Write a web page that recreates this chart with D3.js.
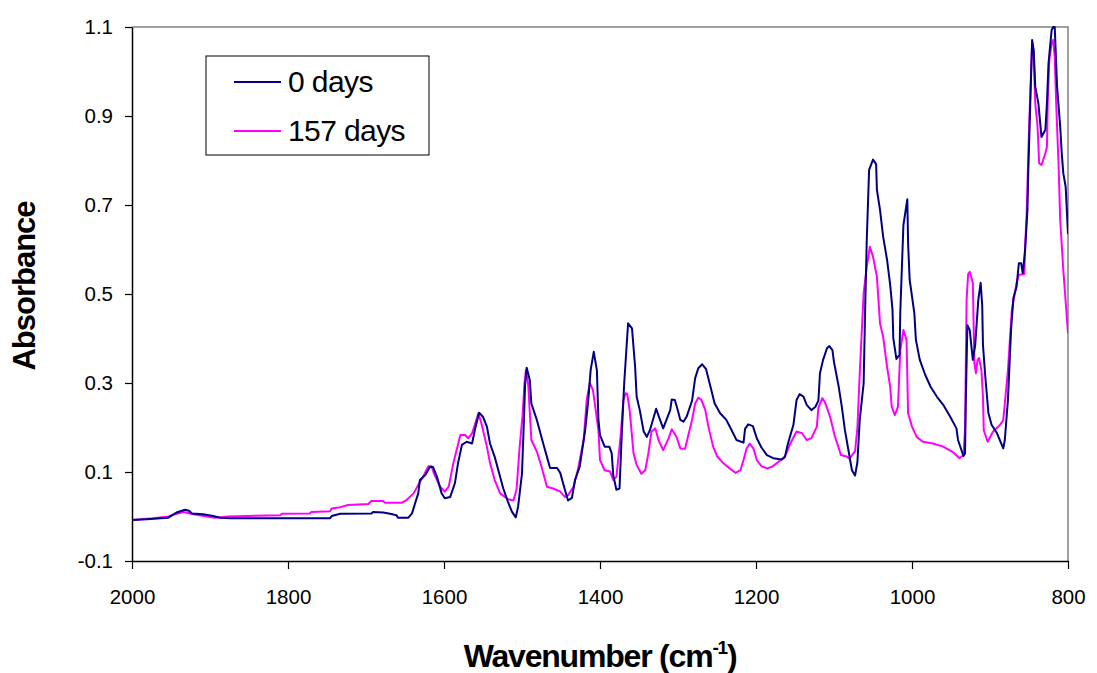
<!DOCTYPE html>
<html>
<head>
<meta charset="utf-8">
<script src="https://cdn.jsdelivr.net/npm/d3@7"></script>
<style>
  html, body { margin: 0; padding: 0; background: #fff; }
  svg { display: block; font-family: "Liberation Sans", Arial, sans-serif; }
</style>
</head>
<body>
<svg id="chart" width="1097" height="673"></svg>
<script>
// FTIR spectra: absorbance versus wavenumber, fresh sample and after 157 days
const seriesNames = ["0 days", "157 days"];
const seriesColors = ["#000080", "#ff00ff"];

const waveDay0 = [2000,1981,1954,1943,1932,1927,1923,1909,1896,1887,1874,1746,1744,1733,1693,1691,1678,1669,1661,1659,
  1646,1641,1637,1633,1631,1624,1618,1614,1609,1603,1599,1592,1586,1582,1577,1571,1564,1560,1555,1550,
  1545,1541,1535,1528,1524,1518,1513,1508,1505,1500,1498,1496,1494,1490,1488,1481,1473,1468,1464,1455,
  1451,1445,1441,1436,1432,1426,1419,1415,1412,1408,1404,1402,1400,1394,1388,1385,1383,1379,1375,1372,
  1369,1364,1359,1355,1353,1349,1344,1340,1336,1328,1323,1319,1310,1308,1304,1300,1297,1293,1289,1282,
  1278,1274,1269,1264,1259,1253,1246,1238,1233,1225,1216,1214,1210,1204,1199,1193,1186,1178,1167,1163,
  1159,1152,1148,1144,1139,1135,1129,1124,1120,1118,1114,1109,1106,1102,1100,1094,1090,1086,1082,1077,
  1073,1070,1067,1062,1060,1058,1055,1050,1046,1045,1041,1037,1032,1028,1025,1024,1020,1016,1015,1011,
  1006,1005,1003,997,995,990,983,976,968,960,951,943,941,936,934,932,931,929,926,922,
  919,915,912,910,909,906,902,898,891,883,881,877,873,870,866,863,860,858,855,852,
  851,849,846,844,842,838,834,829,827,825,821,819,817,814,810,808,806,803,800];
const absDay0 = [-0.008,-0.006,-0.003,0.009,0.015,0.013,0.007,0.005,0.001,-0.003,-0.004,-0.004,0.001,0.006,0.007,0.010,0.009,0.006,0.003,-0.003,
  -0.003,0.007,0.030,0.052,0.082,0.093,0.111,0.111,0.089,0.052,0.041,0.044,0.075,0.120,0.161,0.168,0.164,0.198,0.233,0.224,
  0.202,0.164,0.134,0.089,0.063,0.033,0.011,-0.002,0.022,0.097,0.194,0.296,0.334,0.307,0.254,0.217,0.165,0.134,0.109,0.109,
  0.098,0.060,0.036,0.042,0.082,0.112,0.194,0.262,0.329,0.370,0.329,0.217,0.183,0.157,0.157,0.142,0.093,0.060,0.063,0.187,
  0.299,0.434,0.423,0.337,0.269,0.239,0.191,0.179,0.194,0.242,0.217,0.198,0.239,0.263,0.262,0.237,0.217,0.213,0.224,0.260,
  0.311,0.333,0.342,0.331,0.296,0.254,0.232,0.217,0.200,0.172,0.166,0.197,0.207,0.203,0.176,0.155,0.138,0.131,0.128,0.134,
  0.164,0.206,0.262,0.275,0.269,0.251,0.239,0.246,0.260,0.322,0.352,0.378,0.383,0.374,0.347,0.292,0.247,0.194,0.154,0.104,
  0.092,0.122,0.217,0.299,0.471,0.621,0.779,0.802,0.792,0.734,0.689,0.629,0.577,0.521,0.465,0.401,0.354,0.363,0.460,0.655,
  0.713,0.614,0.532,0.457,0.397,0.352,0.318,0.291,0.269,0.251,0.224,0.198,0.172,0.146,0.136,0.142,0.262,0.430,0.419,0.352,
  0.385,0.487,0.525,0.475,0.385,0.314,0.232,0.206,0.187,0.153,0.172,0.262,0.419,0.491,0.516,0.569,0.569,0.547,0.599,0.689,
  0.771,0.891,1.071,1.048,0.966,0.929,0.853,0.869,0.929,1.018,1.093,1.100,1.100,0.966,0.876,0.816,0.771,0.741,0.635];

const waveDay157 = [2000,1973,1953,1945,1934,1921,1904,1894,1877,1810,1808,1772,1770,1746,1744,1733,1723,1697,1693,1678,
  1676,1654,1648,1639,1633,1627,1620,1616,1612,1605,1599,1594,1588,1579,1573,1569,1564,1560,1556,1552,
  1545,1541,1535,1528,1518,1511,1507,1503,1499,1497,1495,1492,1488,1481,1475,1468,1460,1451,1445,1441,
  1434,1428,1421,1417,1413,1409,1402,1400,1394,1387,1383,1379,1374,1370,1367,1365,1362,1357,1353,1347,
  1342,1338,1334,1329,1325,1319,1312,1308,1302,1297,1291,1287,1282,1278,1274,1270,1265,1261,1255,1250,
  1242,1233,1226,1220,1216,1212,1208,1203,1199,1193,1186,1179,1171,1163,1156,1148,1141,1135,1129,1122,
  1120,1115,1112,1109,1105,1099,1091,1084,1080,1073,1070,1067,1062,1058,1054,1050,1045,1041,1037,1032,
  1028,1026,1022,1018,1015,1011,1007,1005,1000,994,986,973,960,947,939,934,932,930,928,926,
  922,920,918,916,914,911,909,908,903,896,887,883,881,877,872,866,863,856,855,853,
  850,846,844,842,839,837,834,829,827,826,824,821,819,817,815,812,810,806,800];
const absDay157 = [-0.008,-0.004,0.000,0.005,0.010,0.005,0.000,-0.003,0.000,0.003,0.006,0.007,0.010,0.012,0.018,0.021,0.026,0.028,0.035,0.035,
  0.031,0.031,0.037,0.052,0.071,0.089,0.113,0.113,0.093,0.067,0.056,0.067,0.120,0.183,0.183,0.176,0.187,0.209,0.232,0.209,
  0.157,0.120,0.082,0.052,0.039,0.036,0.060,0.157,0.232,0.296,0.329,0.296,0.172,0.146,0.112,0.067,0.063,0.056,0.044,0.048,
  0.067,0.108,0.172,0.262,0.300,0.284,0.194,0.127,0.104,0.101,0.082,0.089,0.172,0.262,0.277,0.275,0.239,0.142,0.116,0.096,
  0.104,0.142,0.191,0.198,0.172,0.149,0.176,0.196,0.179,0.153,0.152,0.181,0.217,0.254,0.267,0.262,0.239,0.202,0.157,0.136,
  0.120,0.107,0.098,0.104,0.127,0.153,0.164,0.152,0.127,0.113,0.108,0.112,0.123,0.134,0.164,0.191,0.187,0.172,0.176,0.202,
  0.244,0.266,0.258,0.244,0.224,0.181,0.138,0.135,0.130,0.147,0.199,0.322,0.502,0.561,0.606,0.584,0.539,0.434,0.404,0.337,
  0.292,0.247,0.228,0.247,0.374,0.419,0.397,0.232,0.202,0.179,0.168,0.164,0.157,0.144,0.131,0.138,0.194,0.487,0.545,0.550,
  0.525,0.345,0.322,0.352,0.356,0.329,0.269,0.194,0.168,0.191,0.206,0.217,0.254,0.329,0.464,0.524,0.543,0.545,0.606,0.681,
  0.868,1.063,1.041,0.929,0.876,0.794,0.790,0.816,0.831,0.929,1.026,1.063,1.071,1.033,0.921,0.786,0.666,0.554,0.412];

const xTicks = [2000, 1800, 1600, 1400, 1200, 1000, 800];
const yTicks = [-0.1, 0.1, 0.3, 0.5, 0.7, 0.9, 1.1];
const yTickLabels = ["-0.1", "0.1", "0.3", "0.5", "0.7", "0.9", "1.1"];

const svg = d3.select("#chart");
const plot = { left: 132, right: 1068, top: 27, bottom: 561 };

const x = d3.scaleLinear().domain([2000, 800]).range([plot.left, plot.right]);
const y = d3.scaleLinear().domain([-0.1, 1.1]).range([plot.bottom, plot.top]);

// frame: grey top and right edges
svg.append("path")
  .attr("d", `M${plot.left},${plot.top}H${plot.right}V${plot.bottom}`)
  .attr("fill", "none").attr("stroke", "#808080").attr("stroke-width", 1.5);

// spectra, clipped to the plot area
svg.append("clipPath").attr("id", "plotClip")
  .append("rect").attr("x", plot.left).attr("y", plot.top - 1)
  .attr("width", plot.right - plot.left).attr("height", plot.bottom - plot.top + 1);

const series = [
  { name: seriesNames[0], color: seriesColors[0], wave: waveDay0, abs: absDay0 },
  { name: seriesNames[1], color: seriesColors[1], wave: waveDay157, abs: absDay157 }
];

const line = d3.line().x(d => x(d[0])).y(d => y(d[1]));
const lines = svg.append("g").attr("clip-path", "url(#plotClip)");
// draw the aged sample underneath, fresh sample on top
[series[1], series[0]].forEach(s => {
  lines.append("path")
    .datum(d3.zip(s.wave, s.abs))
    .attr("d", line)
    .attr("fill", "none")
    .attr("stroke", s.color)
    .attr("stroke-width", 2)
    .attr("stroke-linejoin", "round");
});

// axes
const yAxis = svg.append("g")
  .attr("transform", `translate(${plot.left},0)`)
  .call(d3.axisLeft(y).tickValues(yTicks).tickSize(7).tickPadding(12).tickSizeOuter(0)
    .tickFormat((d, i) => yTickLabels[i]));
const xAxis = svg.append("g")
  .attr("transform", `translate(0,${plot.bottom})`)
  .call(d3.axisBottom(x).tickValues(xTicks).tickSize(8).tickPadding(20).tickSizeOuter(0)
    .tickFormat(d => String(d)));

[yAxis, xAxis].forEach(g => {
  g.select(".domain").attr("stroke", "#000").attr("stroke-width", 1.5);
  g.selectAll(".tick line").attr("stroke", "#000").attr("stroke-width", 1.2);
  g.selectAll(".tick text")
    .attr("fill", "#000")
    .style("font-family", '"Liberation Sans", Arial, sans-serif')
    .style("font-size", "20.5px");
});

// axis titles
svg.append("text")
  .attr("transform", "translate(35,286) rotate(-90)")
  .attr("text-anchor", "middle")
  .style("font-size", "31px").style("font-weight", "bold")
  .style("letter-spacing", "-1px")
  .text("Absorbance");

const xTitle = svg.append("text")
  .attr("x", 600).attr("y", 667)
  .attr("text-anchor", "middle")
  .style("font-size", "32px").style("font-weight", "bold")
  .style("letter-spacing", "-1.2px");
xTitle.append("tspan").text("Wavenumber (cm");
xTitle.append("tspan").attr("dy", -13).style("font-size", "19px").text("-1");
xTitle.append("tspan").attr("dy", 13).text(")");

// legend
const legend = svg.append("g").attr("transform", "translate(206,56)");
legend.append("rect")
  .attr("width", 223).attr("height", 99)
  .attr("fill", "#fff").attr("stroke", "#000").attr("stroke-width", 1);
series.forEach((s, i) => {
  const ly = 26 + i * 49;
  legend.append("line")
    .attr("x1", 28).attr("x2", 75).attr("y1", ly).attr("y2", ly)
    .attr("stroke", s.color).attr("stroke-width", 2);
  legend.append("text")
    .attr("x", 82).attr("y", ly + 10)
    .style("font-size", "30px").style("letter-spacing", "-0.6px")
    .text(s.name);
});
</script>
</body>
</html>
